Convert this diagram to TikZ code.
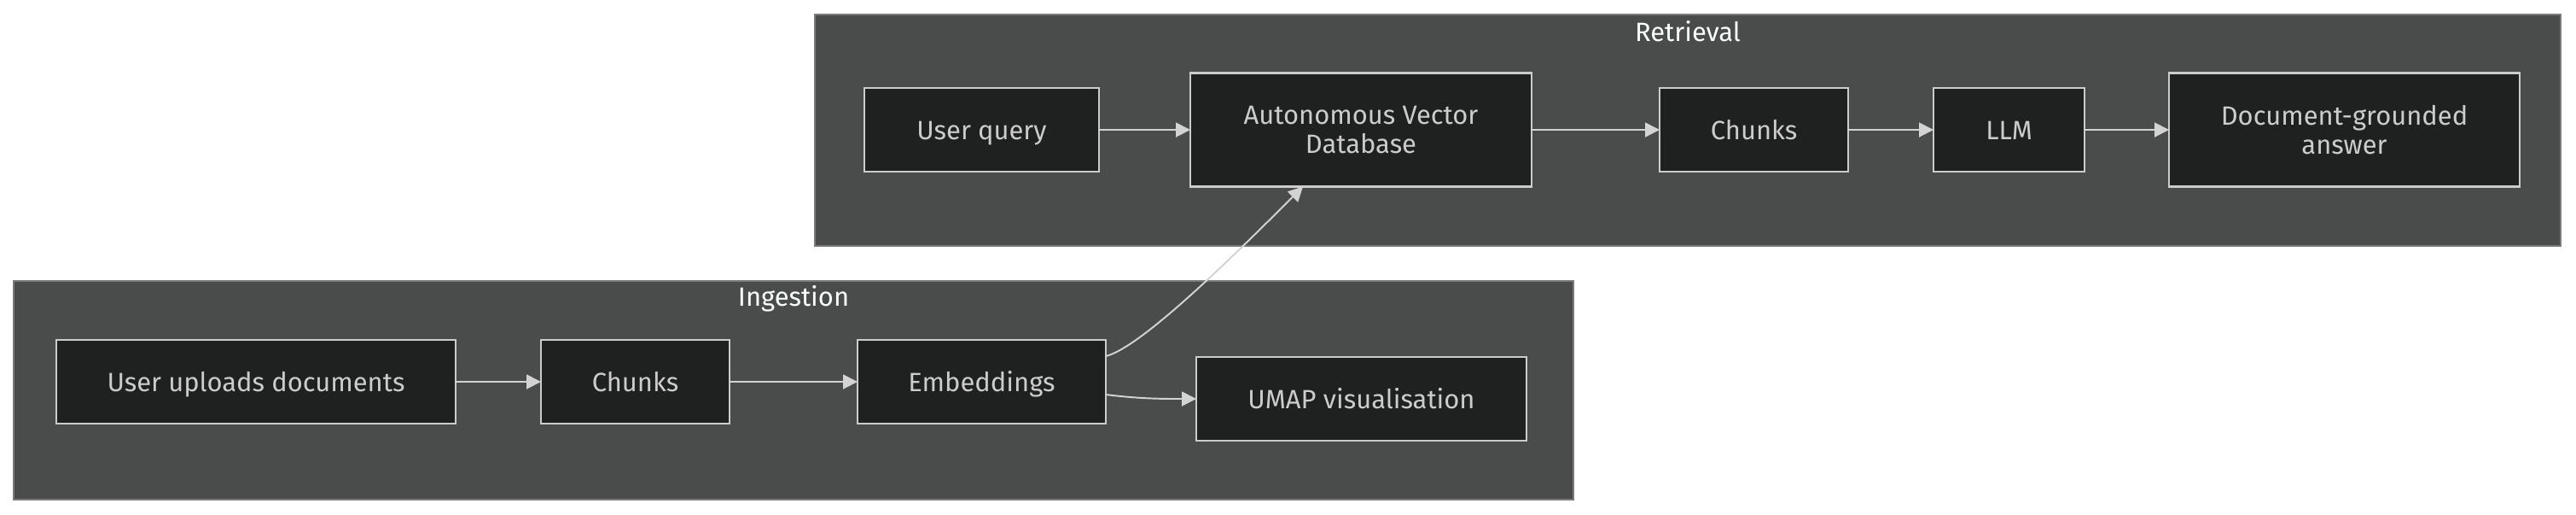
\documentclass[tikz,border=0pt]{standalone}
\usepackage{fontspec}
\setmainfont{Fira Sans}
\usetikzlibrary{arrows.meta,positioning}
\definecolor{panel}{HTML}{4A4C4B}
\definecolor{panelline}{HTML}{7A7A7A}
\definecolor{boxfill}{HTML}{1F2020}
\definecolor{boxline}{HTML}{CCCCCC}
\definecolor{boxtext}{HTML}{CCCCCC}
\definecolor{edge}{HTML}{D3D3D3}
\definecolor{heading}{HTML}{F9FFFE}

\begin{document}
\begin{tikzpicture}[
    font=\fontsize{8.8}{9.7}\selectfont,
    cluster/.style={fill=panel, draw=panelline, line width=0.6pt},
    title/.style={text=heading, anchor=center},
    box/.style={rectangle, draw=boxline, fill=boxfill, text=boxtext, line width=0.7pt, minimum height=0.98cm, inner sep=0pt, outer sep=0pt, align=center},
    oneline/.style={box, text height=0.82em, text depth=0.18em},
    arrow/.style={-{Triangle[length=0.17cm,width=0.17cm]}, line width=0.55pt, color=edge}
]
\useasboundingbox (0,0) rectangle (30.19,-6.02);
% subgraph panels
\draw[cluster] (9.55,-0.17) rectangle (30.01,-2.88);
\draw[cluster] (0.16,-3.29) rectangle (18.44,-5.85);
\node[title] (rettitle) at (19.78,-0.37) {Retrieval};
\node[title] (ingtitle) at (9.30,-3.50) {Ingestion};

% retrieval row
\node[oneline, minimum width=2.75cm] (query) at (11.505,-1.52) {User query};
\node[box, minimum width=4.00cm, minimum height=1.33cm, right=1.07cm of query] (vectordb) {Autonomous Vector\\Database};
\node[oneline, minimum width=2.21cm, right=1.50cm of vectordb] (retchunks) {Chunks};
\node[oneline, minimum width=1.77cm, right=1.00cm of retchunks] (llm) {LLM};
\node[box, minimum width=4.11cm, minimum height=1.33cm, right=0.99cm of llm] (answer) {Document-grounded\\answer};

% ingestion row
\node[oneline, minimum width=4.68cm] (upload) at (3.00,-4.47) {User uploads documents};
\node[oneline, minimum width=2.21cm, right=1.00cm of upload] (ingchunks) {Chunks};
\node[oneline, minimum width=2.91cm, right=1.50cm of ingchunks] (embed) {Embeddings};
\node[oneline, minimum width=3.87cm, right=1.06cm of embed, yshift=-0.2cm] (umap) {UMAP visualisation};

\draw[arrow] (query) -- (vectordb);
\draw[arrow] (vectordb) -- (retchunks);
\draw[arrow] (retchunks) -- (llm);
\draw[arrow] (llm) -- (answer);
\draw[arrow] (upload) -- (ingchunks);
\draw[arrow] (ingchunks) -- (embed);
\draw[arrow] ([yshift=0.3cm]embed.east) .. controls +(0.4,0.1) and +(-0.9,-0.9) .. ([xshift=-0.68cm]vectordb.south);
\draw[arrow] ([yshift=-0.15cm]embed.east) .. controls +(0.4,-0.05) and +(-0.4,0) .. (umap.west);
\end{tikzpicture}
\end{document}
